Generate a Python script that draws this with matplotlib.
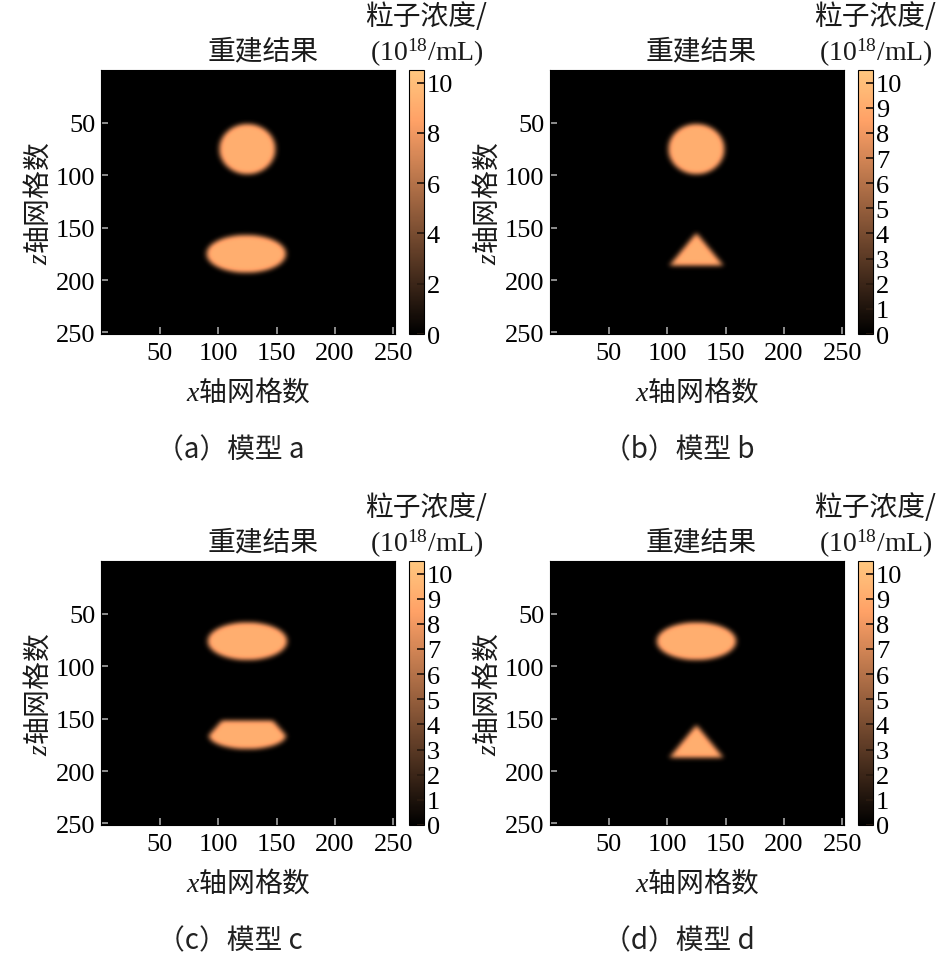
import numpy as np
import matplotlib
matplotlib.use('Agg')
import matplotlib.pyplot as plt

plt.rcParams['font.family'] = ['Noto Sans CJK SC', 'DejaVu Sans']
plt.rcParams['mathtext.fontset'] = 'custom'
plt.rcParams['mathtext.rm'] = 'Liberation Serif'
plt.rcParams['mathtext.it'] = 'Liberation Serif:italic'

# ---------------- data ----------------
N_CELLS = 252
VMAX = 10.5
SHAPE_VALUE = 9.2
BLUR_SIGMA = 2.2

captions = ['（a）模型 a', '（b）模型 b', '（c）模型 c', '（d）模型 d']
title_text = '重建结果'
cbar_label_1 = '粒子浓度/'
cbar_label_2 = r'$\mathrm{(10^{18}/mL)}$'
xlabel_text = r'$x$轴网格数'
ylabel_text = r'$z$轴网格数'
axis_ticks = [50, 100, 150, 200, 250]
cbar_ticks = [[0, 2, 4, 6, 8, 10], list(range(11)), list(range(11)), list(range(11))]

# upper objects: ellipse (cx, cz, rx, rz)
upper_shapes = [('ellipse', 125, 75, 24, 24),
                ('ellipse', 125, 75, 24, 24),
                ('ellipse', 125, 76, 34, 18),
                ('ellipse', 125, 76, 34, 18)]
# lower objects
# ellipse: (cx, cz, rx, rz); triangle: (cx, apex_z, base_z, half_width)
# lens: (cx, top_z, top_half, mid_z, mid_half, bottom_z)
lower_shapes = [('ellipse', 124, 175, 34, 18),
                ('triangle', 125, 155, 186, 23),
                ('lens', 125, 152, 22, 166, 33, 179),
                ('triangle', 125, 156, 187, 23)]


# ---------------- field construction ----------------
def shape_mask(X, Z, shape):
    kind = shape[0]
    if kind == 'ellipse':
        _, cx, cz, rx, rz = shape
        return (((X - cx) / rx) ** 2 + ((Z - cz) / rz) ** 2) <= 1
    if kind == 'triangle':
        _, cx, za, zb, hw = shape
        frac = (Z - za) / (zb - za)
        return (Z >= za) & (Z <= zb) & (np.abs(X - cx) <= hw * frac)
    if kind == 'lens':
        _, cx, zt, ht, zm, hm, zb = shape
        upper = (Z >= zt) & (Z <= zm) & (np.abs(X - cx) <= ht + (hm - ht) * (Z - zt) / (zm - zt))
        lower = (Z > zm) & ((((X - cx) / hm) ** 2 + ((Z - zm) / (zb - zm)) ** 2) <= 1)
        return upper | lower
    return np.zeros_like(X, dtype=bool)


def blur(img, sigma):
    r = int(np.ceil(3 * sigma))
    t = np.arange(-r, r + 1)
    k = np.exp(-0.5 * (t / sigma) ** 2)
    k /= k.sum()
    img = np.apply_along_axis(lambda v: np.convolve(v, k, mode='same'), 0, img)
    img = np.apply_along_axis(lambda v: np.convolve(v, k, mode='same'), 1, img)
    return img


def build_field(shapes):
    ss = 3
    c = (np.arange(N_CELLS * ss) + 0.5) / ss - 0.5
    X, Z = np.meshgrid(c, c)
    m = np.zeros_like(X)
    for s in shapes:
        m = np.maximum(m, shape_mask(X, Z, s).astype(float))
    m = blur(m, BLUR_SIGMA * ss)
    m = m.reshape(N_CELLS, ss, N_CELLS, ss).mean(axis=(1, 3))
    return m * SHAPE_VALUE


# ---------------- layout ----------------
W, H = 951, 970
fig = plt.figure(figsize=(W / 100, H / 100), dpi=100)

col_left = [101, 550]
col_title_x = [263, 701]
row_top = [71, 562]
ax_w, ax_h = 294, 264
cb_off, cb_w = 308, 15

serif = 'Liberation Serif'

for i in range(4):
    r, c = divmod(i, 2)
    L, T = col_left[c], row_top[r]
    ax = fig.add_axes([L / W, 1 - (T + ax_h) / H, ax_w / W, ax_h / H])
    ax.set_facecolor('#0b0b0c')
    field = build_field([upper_shapes[i], lower_shapes[i]])
    im = ax.imshow(field, cmap='copper', vmin=0, vmax=VMAX,
                   extent=(-0.5, N_CELLS - 0.5, N_CELLS - 0.5, -0.5),
                   aspect='auto', interpolation='bilinear')
    ax.set_xticks(axis_ticks)
    ax.set_yticks(axis_ticks)
    ax.tick_params(direction='in', length=5, width=1.1, color='#b5b5b5',
                   labelsize=19, pad=6)
    ax.tick_params(axis='y', pad=4)
    for lbl in ax.get_xticklabels() + ax.get_yticklabels():
        lbl.set_fontfamily(serif)
    for sp in ax.spines.values():
        sp.set_linewidth(0.8)

    cax = fig.add_axes([(L + cb_off) / W, 1 - (T + ax_h) / H, cb_w / W, ax_h / H])
    cb = fig.colorbar(im, cax=cax, ticks=cbar_ticks[i])
    cb.ax.tick_params(direction='in', length=5, width=1.3, color='#2a1a10',
                      labelsize=19, pad=2)
    for lbl in cb.ax.get_yticklabels():
        lbl.set_fontfamily(serif)
    cb.outline.set_linewidth(0.8)

    cbx = L + cb_off + cb_w / 2 + 10
    fig.text(cbx / W, 1 - (T - 54) / H, cbar_label_1, fontsize=20,
             ha='center', va='center', color='#1a1a1a')
    fig.text(cbx / W, 1 - (T - 18) / H, cbar_label_2, fontsize=20,
             ha='center', va='center', color='#1a1a1a')
    fig.text(col_title_x[c] / W, 1 - (T - 20) / H, title_text, fontsize=20,
             ha='center', va='center', color='#1a1a1a')
    fig.text((L + ax_w / 2) / W, 1 - (T + 322) / H, xlabel_text, fontsize=20,
             ha='center', va='center', color='#1a1a1a')
    fig.text((L - 62) / W, 1 - (T + ax_h / 2) / H, ylabel_text, fontsize=20,
             ha='center', va='center', rotation=90, color='#1a1a1a')
    fig.text((L + 129) / W, 1 - (T + 379) / H, captions[i], fontsize=20,
             ha='center', va='center', color='#222222')

fig.savefig('out.png', dpi=100)
